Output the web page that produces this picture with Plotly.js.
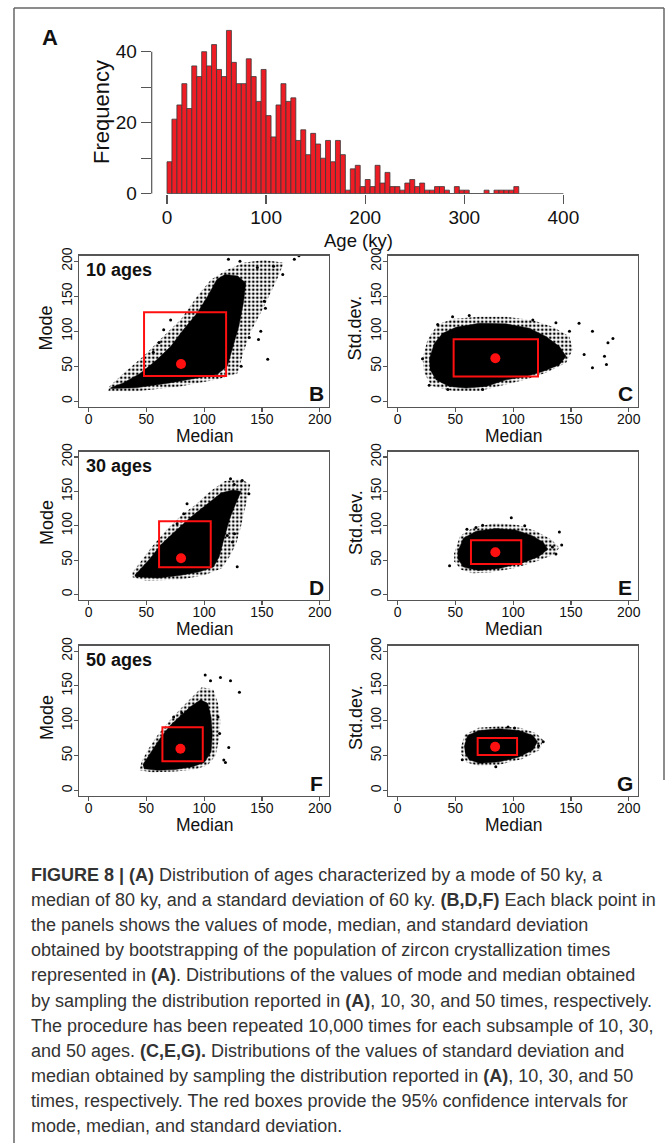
<!DOCTYPE html>
<html>
<head>
<meta charset="utf-8">
<script src="https://cdn.plot.ly/plotly-3.0.1.min.js"></script>
<style>
html,body{margin:0;padding:0;background:#fff;}
#chart{width:667px;height:1143px;}
</style>
</head>
<body>
<div id="chart"></div>
<script>
// ---------- Panel A: histogram of ages ----------
const ageBinStart = [0,5,10,15,20,25,30,35,40,45,50,55,60,65,70,75,80,85,90,95,100,105,110,115,120,125,130,135,140,145,150,155,160,165,170,175,180,185,190,195,200,205,210,215,220,225,230,235,240,245,250,255,260,265,270,275,280,285,290,295,300,305,310,315,320,325,330,335,340,345,350];
const ageFreq = [9,21,25,31,24,36,33,40,36,42,35,33,46,37,31,31,38,33,26,35,22,16,25,31,26,27,15,18,11,17,14,10,15,9,15,11,1,7,8,2,4,2,8,3,6,2,2,1,3,4,2,3,1,1,2,2,1,0,2,1,1,0,0,0,1,0,1,1,1,1,2];
const ageTicks = [0,100,200,300,400];
const freqTicks = [0,10,20,30,40];
const freqTickText = ['0','','20','','40'];

// ---------- Scatter clouds (outlines of dense regions + stray points) ----------
// B: Mode vs Median, 10 ages
const bFringeMedian = [17,42,79,111,129,134,140,152,163,169,152,134,120,106,94,80,65,48,31,18];
const bFringeMode   = [14,14,21,31,40,70,98,136,174,198,202,198,188,174,150,117,93,65,41,21];
const bCoreMedian = [19,41,70,94,111,120,124,130,134,136,129,118,111,103,94,82,71,59,45,30,19];
const bCoreMode   = [18,19,26,33,38,50,74,107,141,169,179,181,174,150,126,102,78,59,40,26,19];
const bOutMedian = [182,178,121,131,146,160,168,152,153,149,147,155,139,132,61,56,65,71,45];
const bOutMode   = [208,203,203,200,191,193,181,143,133,100,88,60,91,50,84,70,102,116,36];
// C: Std.dev. vs Median, 10 ages
const cFringeMedian = [21.6,26,34.7,47.6,70.7,93.8,116.9,134.2,148.7,151.6,145.8,128.4,111.1,87.8,70.7,47.6,29.4,23.1];
const cFringeSd     = [60.5,88.1,109.5,117.6,120.5,120.5,115.7,106.2,92.4,74,55,40.5,31,21.7,14.5,14.5,21.7,40.5];
const cCoreMedian = [27.4,31.8,39,50.5,70.7,93.8,114,128.4,140,145.8,140,125.6,111.1,93.8,76.5,59.2,44.8,33.3,28];
const cCoreSd     = [59.6,82.4,97,105.5,111.4,110.5,104.3,92.4,78.1,64,52,42.4,35.2,30.5,21,18.6,21,30.5,45.7];
const cOutMedian = [186.3,182,179,180.7,168.6,157,148.7,137,117,62,47.6,34.7,21.6,168.6,161.4,27.4,43.5,73.6];
const cOutSd     = [89.5,83.3,64.3,52.4,100,111.4,100,112,116,122.6,120.5,109.5,60.5,47.6,66.7,22.6,16.7,16.7];
// D: Mode vs Median, 30 ages
const dFringeMedian = [38,50,80,100,115,122,128,132,136,140,132,118,105,92,80,68,55,45,38];
const dFringeMode   = [25,20,22,28,38,55,75,100,130,160,168,165,150,130,115,95,70,48,32];
const dCoreMedian = [40.5,60,80,96,108,113,117,122,128,132,125,115,100,88,75,63,52,44,40];
const dCoreMode   = [26,24,28,33,40,55,80,110,135,150,152,148,128,112,92,73,50,35,28];
const dOutMedian = [128.6,120,124.5,126.3,85.2,82.3,76.6,132.9,138.7,122.8,45,126];
const dOutMode   = [40.4,86,76.4,88.5,132,117.6,103,166,146.5,168.5,33,160];
// E: Std.dev. vs Median, 30 ages
const eFringeMedian = [49,54,66,85,104,120,133,140,135,120,100,80,65,55,49];
const eFringeSd     = [60,85,98,104,101,92,80,68,58,48,38,32,31,36,48];
const eCoreMedian = [52,57,68,85,102,116,126,130,122,108,88,70,57,52];
const eCoreSd     = [62,82,92,96,94,86,76,66,55,46,38,35,40,52];
const eOutMedian = [45,140,137,134,98.4,73.6,67.8,142,60,110];
const eOutSd     = [42,91,59,69,111.8,100.8,97.6,72,95,100];
// F: Mode vs Median, 50 ages
const fFringeMedian = [44,55,75,92,103,110,113,114,112,108,98,90,80,70,60,52,46];
const fFringeMode   = [29,26,27,30,36,50,75,100,125,145,148,135,118,100,80,60,42];
const fCoreMedian = [48,60,75,90,100,106,107,106,103,97,88,80,70,62,55,50,47];
const fCoreMode   = [31,29,30,34,40,55,80,105,125,130,120,108,92,75,58,45,37];
const fOutMedian = [122.8,114.1,100.9,105.5,130.5,121.3,117,118.4,113.4,112,80.6,73.6];
const fOutMode   = [157.5,162,165.7,157.5,141,61.7,43.7,40,81.6,105.4,111,105.3];
// G: Std.dev. vs Median, 50 ages
const gFringeMedian = [55,58,70,88,106,120,126,123,108,88,70,60,55];
const gFringeSd     = [63,80,90,92,90,82,72,58,45,37,35,40,52];
const gCoreMedian = [57.7,60.6,70.7,88,105,117,121,117,105,88,71,62,58.6];
const gCoreSd     = [62.6,79,86,88.5,86,79,70,58,48,41,39,44,53];
const gOutMedian = [126,122,95.6,101.2,56,85];
const gOutSd     = [70,64,90.9,89.7,44,34];

// 95% confidence boxes [low, high] and central values
const ciMedian = {B:[48,119], C:[48.5,121.5], D:[61,105.7], E:[63.5,107], F:[63.9,98.8], G:[69.3,103.4]};
const ciY      = {B:[36,127], C:[35.3,88.6], D:[39.7,106.5], E:[44.5,79], F:[41.8,90.6], G:[50.8,75.4]};
const centerMedian = {B:80, C:84.6, D:80, E:84.6, F:79.5, G:84.4};
const centerY      = {B:53, C:61.4, D:52.8, E:61.5, F:59.7, G:62.6};
const scatterTicks = [0,50,100,150,200];

const captionLines = [
  "<b>FIGURE 8 | (A)</b> Distribution of ages characterized by a mode of 50 ky, a",
  "median of 80 ky, and a standard deviation of 60 ky. <b>(B,D,F)</b> Each black point in",
  "the panels shows the values of mode, median, and standard deviation",
  "obtained by bootstrapping of the population of zircon crystallization times",
  "represented in <b>(A)</b>. Distributions of the values of mode and median obtained",
  "by sampling the distribution reported in <b>(A)</b>, 10, 30, and 50 times, respectively.",
  "The procedure has been repeated 10,000 times for each subsample of 10, 30,",
  "and 50 ages. <b>(C,E,G).</b> Distributions of the values of standard deviation and",
  "median obtained by sampling the distribution reported in <b>(A)</b>, 10, 30, and 50",
  "times, respectively. The red boxes provide the 95% confidence intervals for",
  "mode, median, and standard deviation."
];

// ---------- layout helpers ----------
const W = 667, H = 1143;
const PX = x => x / W;
const PY = y => 1 - y / H;
const FONT = 'Liberation Sans, Arial, Helvetica, sans-serif';
const RED = '#ff1010';
const BARRED = '#ee1c24';
const AX = '#555';

const traces = [];
traces.push({
  type: 'bar', x: ageBinStart, y: ageFreq, width: 5, offset: 0,
  marker: {color: BARRED, line: {color: '#3a3a3a', width: 0.8}},
  xaxis: 'x', yaxis: 'y', hoverinfo: 'skip'
});

const panels = [
  {k:'B', ax:2, fm:bFringeMedian, fy:bFringeMode, cm:bCoreMedian, cy:bCoreMode, om:bOutMedian, oy:bOutMode},
  {k:'C', ax:3, fm:cFringeMedian, fy:cFringeSd, cm:cCoreMedian, cy:cCoreSd, om:cOutMedian, oy:cOutSd},
  {k:'D', ax:4, fm:dFringeMedian, fy:dFringeMode, cm:dCoreMedian, cy:dCoreMode, om:dOutMedian, oy:dOutMode},
  {k:'E', ax:5, fm:eFringeMedian, fy:eFringeSd, cm:eCoreMedian, cy:eCoreSd, om:eOutMedian, oy:eOutSd},
  {k:'F', ax:6, fm:fFringeMedian, fy:fFringeMode, cm:fCoreMedian, cy:fCoreMode, om:fOutMedian, oy:fOutMode},
  {k:'G', ax:7, fm:gFringeMedian, fy:gFringeSd, cm:gCoreMedian, cy:gCoreSd, om:gOutMedian, oy:gOutSd}
];

const shapes = [];
panels.forEach(p => {
  const xa = 'x' + p.ax, ya = 'y' + p.ax;
  traces.push({type:'scatter', mode:'lines', x:p.fm, y:p.fy, fill:'toself',
    fillcolor:'rgba(0,0,0,0)', fillpattern:{shape:'.', fgcolor:'#000', bgcolor:'rgba(255,255,255,0)', size:4, solidity:0.35},
    line:{width:0}, xaxis:xa, yaxis:ya, hoverinfo:'skip'});
  traces.push({type:'scatter', mode:'lines', x:p.cm, y:p.cy, fill:'toself',
    fillcolor:'#000', line:{width:0.5, color:'#000'}, xaxis:xa, yaxis:ya, hoverinfo:'skip'});
  traces.push({type:'scatter', mode:'markers', x:p.om, y:p.oy,
    marker:{size:3, color:'#000'}, xaxis:xa, yaxis:ya, hoverinfo:'skip'});
  traces.push({type:'scatter', mode:'markers', x:[centerMedian[p.k]], y:[centerY[p.k]],
    marker:{size:10, color:RED}, xaxis:xa, yaxis:ya, hoverinfo:'skip'});
  shapes.push({type:'rect', xref:xa, yref:ya, layer:'above',
    x0:ciMedian[p.k][0], x1:ciMedian[p.k][1], y0:ciY[p.k][0], y1:ciY[p.k][1],
    line:{color:RED, width:2}, fillcolor:'rgba(0,0,0,0)'});
});

// axis lines of panel A (R-style, spanning the tick range only)
shapes.push({type:'line', xref:'x', yref:'y', x0:ageTicks[0], x1:ageTicks[ageTicks.length-1], y0:0, y1:0, line:{color:AX, width:1.2}});
shapes.push({type:'line', xref:'paper', yref:'y', x0:PX(151.7), x1:PX(151.7), y0:freqTicks[0], y1:freqTicks[freqTicks.length-1], line:{color:AX, width:1.2}});
// figure frame
shapes.push({type:'line', xref:'paper', yref:'paper', x0:PX(14), x1:PX(14), y0:PY(8), y1:0, line:{color:'#666', width:1.5}});
shapes.push({type:'line', xref:'paper', yref:'paper', x0:PX(14), x1:PX(664), y0:PY(8), y1:PY(8), line:{color:'#666', width:1.5}});
shapes.push({type:'line', xref:'paper', yref:'paper', x0:PX(664), x1:PX(664), y0:PY(8), y1:PY(780), line:{color:'#666', width:1.5}});

const layout = {
  width: W, height: H, margin:{l:0, r:0, t:0, b:0},
  paper_bgcolor:'#fff', plot_bgcolor:'rgba(0,0,0,0)',
  showlegend:false, bargap:0,
  font:{family:FONT, color:'#111'},
  shapes: shapes,
  xaxis:{domain:[PX(151.7), PX(593)], range:[-15.44, 429.9], showgrid:false, zeroline:false, showline:false,
    tickvals:ageTicks, ticks:'outside', ticklen:9, tickcolor:AX, tickwidth:1.2, tickfont:{size:19, color:'#111'},
    ticklabelstandoff:-3, anchor:'y'},
  yaxis:{domain:[PY(193.7), PY(23.3)], range:[0, 48], showgrid:false, zeroline:false, showline:false,
    tickvals:freqTicks, ticktext:freqTickText, ticks:'outside', ticklen:10, tickcolor:AX, tickwidth:1.2,
    tickfont:{size:19, color:'#111'}, anchor:'x'}
};

const boxes = {
  2:{x:[79.3,329], y:[255.7,406.7]},
  3:{x:[388.3,638], y:[255.7,406.7]},
  4:{x:[79.3,329], y:[451.5,600]},
  5:{x:[388.3,638], y:[451.5,600]},
  6:{x:[79.3,329], y:[645.5,796]},
  7:{x:[388.3,638], y:[645.5,796]}
};
Object.keys(boxes).forEach(n => {
  const b = boxes[n];
  const common = {showgrid:false, zeroline:false, showline:true, mirror:true, linecolor:AX, linewidth:1.3,
    ticks:'outside', ticklen:4, tickcolor:AX, tickwidth:1.1, tickvals:scatterTicks, range:[-8,208],
    tickfont:{size:14, color:'#111'}};
  layout['xaxis'+n] = Object.assign({}, common, {domain:[PX(b.x[0]), PX(b.x[1])], anchor:'y'+n, ticklabelstandoff:-5});
  layout['yaxis'+n] = Object.assign({}, common, {domain:[PY(b.y[1]), PY(b.y[0])], anchor:'x'+n, tickangle:-90, ticklabelstandoff:-4});
});

const ann = [];
const A = (text, x, y, size, opts) => ann.push(Object.assign({text:text, x:PX(x), y:PY(y), xref:'paper', yref:'paper',
  showarrow:false, font:{family:FONT, size:size, color:'#111'}, xanchor:'center', yanchor:'middle'}, opts||{}));
A('<b>A</b>', 50, 38, 22);
A('Frequency', 101, 112, 22, {textangle:-90});
A('Age (ky)', 358, 240, 18.5);
const yTitles = {2:'Mode',3:'Std.dev.',4:'Mode',5:'Std.dev.',6:'Mode',7:'Std.dev.'};
const letters = {2:'B',3:'C',4:'D',5:'E',6:'F',7:'G'};
const agesLbl = {2:'10 ages',4:'30 ages',6:'50 ages'};
Object.keys(boxes).forEach(n => {
  const b = boxes[n];
  const cx = (b.x[0]+b.x[1])/2, cy = (b.y[0]+b.y[1])/2;
  A(yTitles[n], b.x[0]-33, cy - 3, 18, {textangle:-90});
  A('Median', cx, b.y[1]+29, 17.5);
  A('<b>'+letters[n]+'</b>', b.x[1]-13, b.y[1]-13, 21);
  if (agesLbl[n]) A('<b>'+agesLbl[n]+'</b>', b.x[0]+5, b.y[0]+14, 18, {xanchor:'left'});
});
const capY0 = 875, capDY = 25.1;
captionLines.forEach((t, i) => {
  ann.push({text:t, x:PX(29), y:PY(capY0 + i*capDY), xref:'paper', yref:'paper', showarrow:false,
    xanchor:'left', yanchor:'middle', align:'left',
    font:{family:FONT, size:18, color:'#333'}});
});
layout.annotations = ann;

Plotly.newPlot('chart', traces, layout, {staticPlot:true, displayModeBar:false});
</script>
</body>
</html>
